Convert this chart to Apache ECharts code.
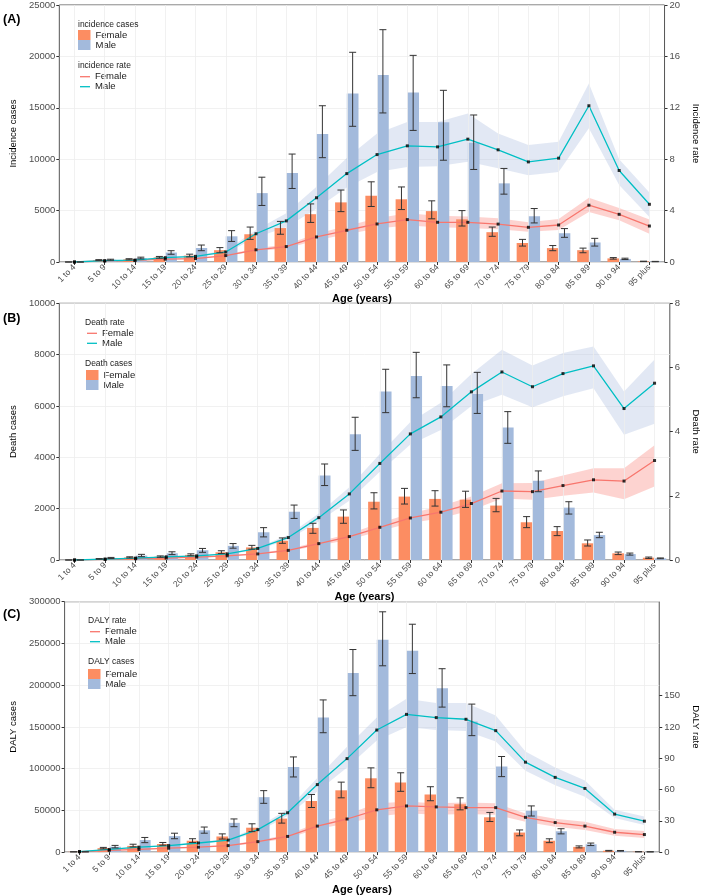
<!DOCTYPE html>
<html><head><meta charset="utf-8">
<script src="https://cdn.jsdelivr.net/npm/echarts@6/dist/echarts.min.js"></script>
<style>html,body{margin:0;padding:0;background:#fff}#c{width:709px;height:896px}</style>
</head><body><div id="c"></div><script>
const ageGroups = ['1 to 4','5 to 9','10 to 14','15 to 19','20 to 24','25 to 29','30 to 34','35 to 39','40 to 44','45 to 49','50 to 54','55 to 59','60 to 64','65 to 69','70 to 74','75 to 79','80 to 84','85 to 89','90 to 94','95 plus'];

// Panel A: incidence
const incCasesF   = [0,180,260,450,620,1150,2700,3300,4650,5800,6450,6100,4950,4150,2900,1850,1350,1150,350,60];
const incCasesFLo = [0,140,210,370,500,900,2200,2700,3850,4900,5400,5100,4200,3500,2500,1550,1100,900,280,40];
const incCasesFHi = [0,230,320,540,760,1400,3400,3950,5650,7000,7800,7300,5950,5000,3400,2200,1600,1350,430,80];
const incCasesM   = [0,220,380,920,1360,2500,6700,8650,12450,16400,18200,16500,13600,11600,7650,4450,2800,1900,300,40];
const incCasesMLo = [0,170,300,750,1100,2000,5500,7150,10150,13200,14500,12800,9900,9000,6600,3800,2400,1550,240,25];
const incCasesMHi = [0,270,470,1100,1650,3050,8250,10500,15200,20400,22600,20100,16700,14300,9100,5200,3250,2300,370,60];
const incRateF    = [0,0.08,0.12,0.22,0.27,0.5,0.95,1.2,1.95,2.47,2.96,3.3,3.09,3.09,2.95,2.7,2.88,4.42,3.71,2.8];
const incRateFLo  = [0,0.06,0.1,0.19,0.23,0.44,0.85,1.05,1.7,2.15,2.6,2.85,2.7,2.65,2.55,2.35,2.5,3.9,3.25,2.2];
const incRateFHi  = [0,0.1,0.15,0.26,0.32,0.57,1.07,1.37,2.2,2.8,3.4,3.8,3.6,3.55,3.4,3.1,3.35,5.0,4.2,3.3];
const incRateM    = [0,0.1,0.15,0.34,0.44,0.78,2.2,3.2,5.0,6.88,8.36,9.04,8.96,9.56,8.73,7.79,8.08,12.16,7.12,4.49];
const incRateMLo  = [0,0.08,0.12,0.29,0.38,0.68,1.9,2.7,4.15,5.8,7.0,7.4,7.45,7.8,7.3,6.75,7.0,10.4,6.0,3.5];
const incRateMHi  = [0,0.12,0.18,0.4,0.52,0.9,2.5,3.8,5.85,8.1,10.0,10.9,10.9,11.55,10.0,9.1,9.35,13.9,8.0,5.4];

// Panel B: death
const deathCasesF   = [0,40,100,130,200,300,490,750,1250,1690,2270,2470,2380,2350,2120,1470,1130,650,260,90];
const deathCasesFLo = [0,30,80,105,165,250,420,650,1040,1430,1990,2180,2100,2050,1880,1260,950,545,210,60];
const deathCasesFHi = [0,55,125,160,240,360,570,860,1430,1950,2620,2790,2700,2680,2400,1690,1300,780,310,115];
const deathCasesM   = [0,80,170,260,380,550,1080,1880,3290,4900,6560,7170,6780,6470,5160,3090,2040,970,230,65];
const deathCasesMLo = [0,60,130,210,300,460,900,1620,2900,4270,5740,6320,5970,5710,4545,2660,1790,870,190,50];
const deathCasesMHi = [0,100,220,320,450,640,1260,2140,3740,5560,7430,8090,7600,7310,5780,3470,2270,1080,270,80];
const deathRateF    = [0,0.02,0.04,0.06,0.09,0.13,0.19,0.3,0.51,0.73,1.02,1.31,1.49,1.76,2.15,2.13,2.32,2.5,2.46,3.1];
const deathRateFLo  = [0,0.015,0.03,0.05,0.08,0.11,0.17,0.27,0.45,0.63,0.9,1.15,1.3,1.55,1.92,1.88,2.0,2.1,1.89,2.29];
const deathRateFHi  = [0,0.025,0.05,0.07,0.1,0.15,0.22,0.34,0.58,0.82,1.15,1.45,1.68,1.98,2.39,2.4,2.63,2.86,2.86,3.58];
const deathRateM    = [0,0.03,0.06,0.1,0.13,0.19,0.36,0.7,1.32,2.06,3.01,3.93,4.46,5.24,5.86,5.4,5.81,6.05,4.72,5.51];
const deathRateMLo  = [0,0.025,0.05,0.09,0.11,0.17,0.32,0.63,1.2,1.85,2.75,3.6,4.05,4.8,5.15,4.76,5.1,5.35,3.9,4.25];
const deathRateMHi  = [0,0.035,0.07,0.11,0.15,0.21,0.4,0.78,1.45,2.27,3.3,4.3,4.9,5.8,6.55,6.06,6.45,6.65,5.25,6.25];

// Panel C: DALY
const dalyCasesF   = [300,4700,7400,9700,13600,18700,29200,40100,61200,74000,88400,83400,69000,57300,41700,23400,13600,6200,1600,400];
const dalyCasesFLo = [200,3800,6200,8200,11400,15600,24500,34700,53400,65000,77100,72800,61500,50600,36600,19500,11300,5000,1200,300];
const dalyCasesFHi = [400,5600,9400,11500,16000,21800,33900,46400,69000,83800,100900,95000,78300,65000,47500,26500,15900,7400,2000,500];
const dalyCasesM   = [300,6400,14400,19100,26100,35000,65800,102000,161300,214600,254400,241100,196300,156600,102500,49500,24900,9300,1500,300];
const dalyCasesMLo = [200,5000,11300,16000,22600,30400,58400,90000,143000,187400,223200,213900,173700,139500,90400,43200,21800,7800,1100,200];
const dalyCasesMHi = [400,8000,17500,22600,30000,39700,73600,114000,182300,242700,287900,273000,219700,177300,114500,55300,28000,10800,1900,400];
const dalyRateF    = [0.3,1.6,2.5,3.7,4.7,6.2,10,15,24.9,31.7,40.5,44.2,43.3,42.6,42.6,33.3,28.3,24.9,19,16.8];
const dalyRateFLo  = [0.2,1.3,2.1,3.2,4.1,5.4,8.8,13.2,22,27.4,34.2,37.3,35.8,36.4,35.8,29,24.3,21.2,15.6,13.4];
const dalyRateFHi  = [0.4,1.9,2.9,4.2,5.3,7.0,11.2,16.8,27.8,36,46.7,48.2,46.7,47.6,46.7,37,32,29,22,20.2];
const dalyRateM    = [0.5,2.5,4.7,6.2,8.7,11.5,21.5,37.7,64.7,89.6,117,132,128.9,127.3,116.4,86.2,71.6,61,36.4,29.6];
const dalyRateMLo  = [0.4,2.1,4.1,5.5,7.8,10.3,19.3,34.5,58,81,107,120,117,116,106,78,64,53,32.7,26];
const dalyRateMHi  = [0.6,2.9,5.3,6.9,9.6,12.7,23.7,41,71,101,129,147,143,143,131,96.5,81,68.5,40.5,34];

const dalyRateTicks = [0,30,60,90,120,150];

const FONT = 'Liberation Sans, Arial, sans-serif';
const C_F_BAR = '#FC8D62', C_M_BAR = '#A3BADC';
const C_F_LINE = '#F8766D', C_M_LINE = '#00BFC4';
const C_F_RIB = 'rgba(248,118,109,0.32)', C_M_RIB = 'rgba(165,185,222,0.32)';
const BAR_W = 11.7;

const panels = [
  { grid:{left:45,right:29,top:5,height:257}, letter:'(A)', letterTop:13.5,
    leftName:'Incidence cases', rightName:'Incidence rate', leftMax:25000, leftInt:5000, rightMax:20, rightInt:4,
    leftGap:36, rightGap:22,
    cF:incCasesF,cFLo:incCasesFLo,cFHi:incCasesFHi,cM:incCasesM,cMLo:incCasesMLo,cMHi:incCasesMHi,
    rF:incRateF,rFLo:incRateFLo,rFHi:incRateFHi,rM:incRateM,rMLo:incRateMLo,rMHi:incRateMHi,
    casesTitle:'incidence cases', rateTitle:'incidence rate',
    casesTitlePos:[78,19.5], casesLeg:[78,30], rateTitlePos:[78,61], rateLeg:[80,71.7] },
  { grid:{left:45,right:22.3,top:303.3,height:256.7}, letter:'(B)', letterTop:312,
    leftName:'Death cases', rightName:'Death rate', leftMax:10000, leftInt:2000, rightMax:8, rightInt:2,
    leftGap:36, rightGap:16,
    cF:deathCasesF,cFLo:deathCasesFLo,cFHi:deathCasesFHi,cM:deathCasesM,cMLo:deathCasesMLo,cMHi:deathCasesMHi,
    rF:deathRateF,rFLo:deathRateFLo,rFHi:deathRateFHi,rM:deathRateM,rMLo:deathRateMLo,rMHi:deathRateMHi,
    casesTitle:'Death cases', rateTitle:'Death rate',
    casesTitlePos:[85,359], casesLeg:[86,370], rateTitlePos:[85,317.5], rateLeg:[87,328.3] },
  { grid:{left:50,right:34,top:601.7,height:256.6}, letter:'(C)', letterTop:608.5,
    leftName:'DALY cases', rightName:'DALY rate', leftMax:300000, leftInt:50000, rightMax:240, rightInt:30,
    rightTicks:dalyRateTicks, leftGap:41, rightGap:28,
    cF:dalyCasesF,cFLo:dalyCasesFLo,cFHi:dalyCasesFHi,cM:dalyCasesM,cMLo:dalyCasesMLo,cMHi:dalyCasesMHi,
    rF:dalyRateF,rFLo:dalyRateFLo,rFHi:dalyRateFHi,rM:dalyRateM,rMLo:dalyRateMLo,rMHi:dalyRateMHi,
    casesTitle:'DALY cases', rateTitle:'DALY rate',
    casesTitlePos:[88,657], casesLeg:[88,669], rateTitlePos:[88,616], rateLeg:[90,626.7] }
];

const option = { animation:false, textStyle:{fontFamily:FONT}, title:[], legend:[], grid:[], xAxis:[], yAxis:[], series:[] };
const plainNum = v => String(v);

function errSeries(p, lo, hi, offset) {
  return {
    type:'custom', xAxisIndex:p, yAxisIndex:2*p, silent:true, z:6,
    data: lo.map((l,i)=>[i,l,hi[i]]),
    encode:{x:0, y:[1,2]},
    renderItem:(params, api)=>{
      const i = api.value(0);
      const a = api.coord([i, api.value(1)]);
      const b = api.coord([i, api.value(2)]);
      const cx = a[0] + offset, cap = 3.5;
      const st = {stroke:'#333', lineWidth:1};
      return {type:'group', children:[
        {type:'line', shape:{x1:cx,y1:a[1],x2:cx,y2:b[1]}, style:st},
        {type:'line', shape:{x1:cx-cap,y1:a[1],x2:cx+cap,y2:a[1]}, style:st},
        {type:'line', shape:{x1:cx-cap,y1:b[1],x2:cx+cap,y2:b[1]}, style:st}
      ]};
    }
  };
}

function ribbon(p, lo, hi, color, key) {
  return [
    { type:'line', name:'_lo'+key, xAxisIndex:p, yAxisIndex:2*p+1, stack:key, stackStrategy:'all', data:lo,
      symbol:'none', lineStyle:{opacity:0}, silent:true, z:1 },
    { type:'line', name:'_band'+key, xAxisIndex:p, yAxisIndex:2*p+1, stack:key, stackStrategy:'all',
      data:hi.map((h,i)=>+(h-lo[i]).toFixed(4)), symbol:'none', lineStyle:{opacity:0},
      areaStyle:{color:color, opacity:1}, silent:true, z:1 }
  ];
}

panels.forEach((P, p) => {
  option.grid.push(Object.assign({show:true, borderColor:'#555', borderWidth:1, backgroundColor:'transparent'}, P.grid));
  option.xAxis.push({
    type:'category', gridIndex:p, data:ageGroups, boundaryGap:true,
    name:'Age (years)', nameLocation:'middle', nameGap:25,
    nameTextStyle:{fontSize:11, fontWeight:'bold', color:'#000', fontFamily:FONT},
    axisLine:{show:false}, axisTick:{show:true, alignWithLabel:true, length:3, lineStyle:{color:'#333'}},
    axisLabel:{interval:0, rotate:45, fontSize:8.5, color:'#4d4d4d', margin:4, fontFamily:FONT},
    splitLine:{show:false}
  });
  option.yAxis.push({
    type:'value', gridIndex:p, position:'left', min:0, max:P.leftMax, interval:P.leftInt,
    name:P.leftName, nameLocation:'middle', nameGap:P.leftGap,
    nameTextStyle:{fontSize:9.5, color:'#000', fontFamily:FONT},
    axisLine:{show:false}, axisTick:{show:true, length:3, lineStyle:{color:'#333'}},
    axisLabel:{fontSize:9.5, color:'#4d4d4d', margin:4, fontFamily:FONT, formatter:plainNum},
    splitLine:{show:true, lineStyle:{color:'#eeeeee', width:0.8}}
  });
  const ry = {
    type:'value', gridIndex:p, position:'right', min:0, max:P.rightMax, interval:P.rightInt,
    name:P.rightName, nameLocation:'middle', nameGap:P.rightGap, nameRotate:-90,
    nameTextStyle:{fontSize:9.5, color:'#000', fontFamily:FONT},
    axisLine:{show:false}, axisTick:{show:true, length:3, lineStyle:{color:'#333'}},
    axisLabel:{fontSize:9.5, color:'#4d4d4d', margin:5, fontFamily:FONT, formatter:plainNum},
    splitLine:{show:false}
  };
  if (P.rightTicks) {
    ry.axisTick.customValues = P.rightTicks;
    ry.axisLabel.customValues = P.rightTicks;
  }
  option.yAxis.push(ry);

  option.title.push({text:P.letter, left:3, top:P.letterTop, padding:0,
    textStyle:{fontSize:12.5, fontWeight:'bold', color:'#000', fontFamily:FONT, lineHeight:13}});
  option.title.push({text:P.casesTitle, left:P.casesTitlePos[0], top:P.casesTitlePos[1], padding:0,
    textStyle:{fontSize:8.5, fontWeight:'normal', color:'#222', fontFamily:FONT, lineHeight:10}});
  option.title.push({text:P.rateTitle, left:P.rateTitlePos[0], top:P.rateTitlePos[1], padding:0,
    textStyle:{fontSize:8.5, fontWeight:'normal', color:'#222', fontFamily:FONT, lineHeight:10}});

  const tag = 'P'+p;
  option.legend.push({
    orient:'vertical', left:P.casesLeg[0], top:P.casesLeg[1], padding:0, itemGap:0,
    itemWidth:12.5, itemHeight:10, selectedMode:false, icon:'rect',
    data:['Female|bar|'+tag, 'Male|bar|'+tag], formatter:n=>n.split('|')[0],
    textStyle:{fontSize:9.5, color:'#1a1a1a', lineHeight:10, fontFamily:FONT}
  });
  option.legend.push({
    orient:'vertical', left:P.rateLeg[0], top:P.rateLeg[1], padding:0, itemGap:0,
    itemWidth:10, itemHeight:10, selectedMode:false, icon:'path://M0,0H20V2.6H0Z',
    data:['Female|line|'+tag, 'Male|line|'+tag], formatter:n=>n.split('|')[0],
    textStyle:{fontSize:9.5, color:'#1a1a1a', lineHeight:10, fontFamily:FONT}
  });

  option.series.push({ type:'line', name:'_grid'+tag, xAxisIndex:p, yAxisIndex:2*p, data:[], silent:true, z:0,
    markLine:{silent:true, symbol:'none', label:{show:false},
      lineStyle:{color:'#eeeeee', width:0.8, type:'solid'},
      data: ageGroups.map(a=>({xAxis:a}))}});

  option.series.push(...ribbon(p, P.rMLo, P.rMHi, C_M_RIB, 'm'+tag));
  option.series.push(...ribbon(p, P.rFLo, P.rFHi, C_F_RIB, 'f'+tag));

  option.series.push({ type:'bar', name:'Female|bar|'+tag, xAxisIndex:p, yAxisIndex:2*p, data:P.cF,
    barWidth:BAR_W, barGap:'0%', itemStyle:{color:C_F_BAR}, z:2 });
  option.series.push({ type:'bar', name:'Male|bar|'+tag, xAxisIndex:p, yAxisIndex:2*p, data:P.cM,
    barWidth:BAR_W, barGap:'0%', itemStyle:{color:C_M_BAR}, z:2 });

  option.series.push({ type:'line', name:'Female|line|'+tag, xAxisIndex:p, yAxisIndex:2*p+1, data:P.rF,
    symbol:'none', color:C_F_LINE, lineStyle:{color:C_F_LINE, width:1.3}, z:4 });
  option.series.push({ type:'line', name:'Male|line|'+tag, xAxisIndex:p, yAxisIndex:2*p+1, data:P.rM,
    symbol:'none', color:C_M_LINE, lineStyle:{color:C_M_LINE, width:1.3}, z:4 });
  option.series.push({ type:'scatter', name:'_ptF'+tag, xAxisIndex:p, yAxisIndex:2*p+1, data:P.rF,
    symbol:'rect', symbolSize:3, itemStyle:{color:'#000'}, silent:true, z:5 });
  option.series.push({ type:'scatter', name:'_ptM'+tag, xAxisIndex:p, yAxisIndex:2*p+1, data:P.rM,
    symbol:'rect', symbolSize:3, itemStyle:{color:'#000'}, silent:true, z:5 });

  option.series.push(errSeries(p, P.cFLo, P.cFHi, -BAR_W/2));
  option.series.push(errSeries(p, P.cMLo, P.cMHi, BAR_W/2));
});

const chart = echarts.init(document.getElementById('c'), null, {renderer:'canvas'});
chart.setOption(option);
</script></body></html>
